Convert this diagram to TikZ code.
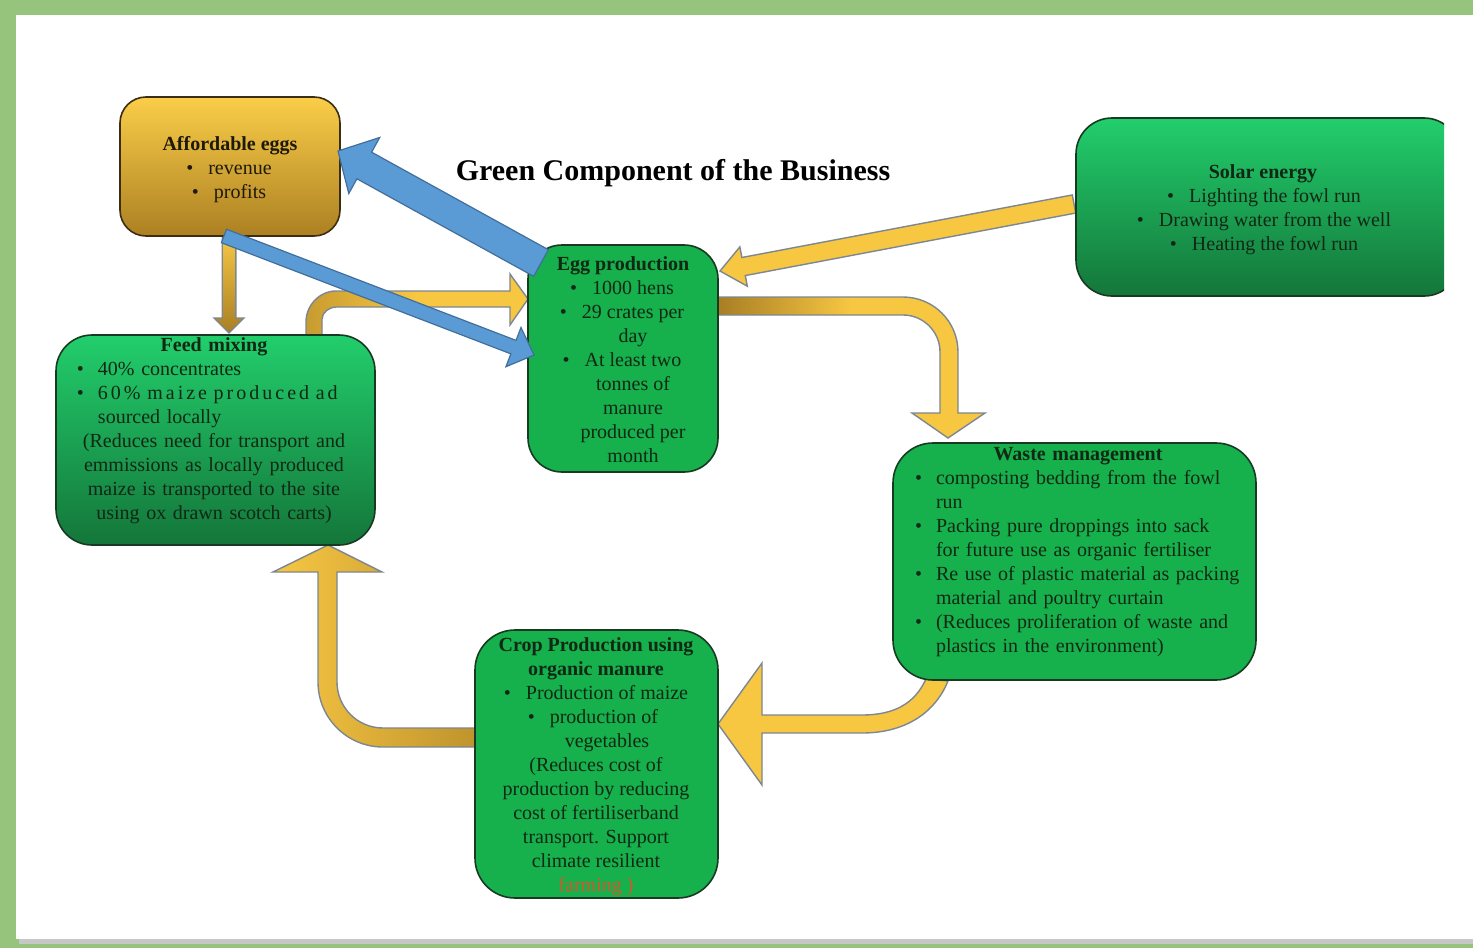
\documentclass[tikz,border=0pt]{standalone}
\usepackage{fontspec}
\setmainfont{Liberation Serif}
\usetikzlibrary{calc}
\definecolor{framegreen}{RGB}{150,196,124}
\definecolor{boxgreen}{RGB}{22,176,76}
\definecolor{gtop}{RGB}{34,206,108}
\definecolor{gbot}{RGB}{20,118,58}
\definecolor{boxedge}{RGB}{24,58,34}
\definecolor{txtc}{RGB}{16,40,20}
\definecolor{afftop}{RGB}{250,206,72}
\definecolor{affbot}{RGB}{172,128,34}
\definecolor{affedge}{RGB}{60,45,20}
\definecolor{afftxtc}{RGB}{30,25,10}
\definecolor{gold}{RGB}{247,199,66}
\definecolor{golddark}{RGB}{168,126,36}
\definecolor{arrowedge}{RGB}{125,135,145}
\definecolor{bluearr}{RGB}{91,155,213}
\definecolor{blueedge}{RGB}{65,110,155}
\definecolor{farm}{RGB}{215,85,40}
\newcommand{\cb}{\llap{\textbullet\hspace*{7.5pt}}}
\newcommand{\bl}[2]{\makebox[#1][l]{\hspace*{1.5pt}\textbullet\hspace*{7pt}#2}}
\newcommand{\cl}[2]{\makebox[#1][l]{\hspace*{12pt}#2}}
\newcommand{\sarrow}[6]{%
  \coordinate (sa-B) at ($(#2)!#4!(#1)$);
  \path[#6] ($(#1)!#3!90:(#2)$) -- ($(sa-B)!#3!90:(#2)$) -- ($(sa-B)!#5!90:(#2)$) -- (#2)
    -- ($(sa-B)!#5!-90:(#2)$) -- ($(sa-B)!#3!-90:(#2)$) -- ($(#1)!#3!-90:(#2)$) -- cycle;}
\begin{document}
\begin{tikzpicture}[x=0.5pt,y=-0.5pt,
  goldarrow/.style={draw=arrowedge, line width=0.7pt, line join=miter},
  bluestyle/.style={draw=blueedge, line width=0.6pt, fill=bluearr, line join=miter},
  boxbase/.style={draw=boxedge, line width=0.8pt, inner sep=0pt},
  flatgreen/.style={boxbase, fill=boxgreen},
  shadegreen/.style={boxbase, top color=gtop, bottom color=gbot},
  txt/.style={inner sep=0pt, text=txtc, align=center, font=\fontsize{10}{12}\selectfont, anchor=north}]
\useasboundingbox (0,0) rectangle (1473,948);
% frame
\fill[framegreen] (0,0) rectangle (1473,948);
\fill[black!22] (19,18) rectangle (1473,944);
\fill[white] (16,15) rectangle (1473,939);

% ---- gold block arrows (under boxes) ----
% egg -> waste
\shadedraw[goldarrow, left color=golddark, right color=gold, middle color=gold]
  (718,297) -- (903,297) .. controls (933.4,297) and (958,321.6) .. (958,352) -- (958,413)
  -- (985,413) -- (948,438) -- (912,413) -- (940,413) -- (940,352)
  .. controls (940,331.6) and (923.4,315) .. (903,315) -- (718,315) -- cycle;
% waste -> crop
\filldraw[goldarrow, fill=gold]
  (718,724) -- (762,663) -- (762,715) -- (862,715) .. controls (895,715) and (915,703) .. (926,679)
  -- (948,681) .. controls (935,713) and (905,733) .. (862,733) -- (762,733) -- (762,785) -- cycle;
% crop -> feed
\shadedraw[goldarrow, left color=gold, middle color=gold, right color=golddark!70!gold]
  (476,747) -- (383,747) .. controls (347.1,747) and (318,717.9) .. (318,682) -- (318,572)
  -- (273,572) -- (328,545) -- (382,572) -- (337,572) -- (337,682)
  .. controls (337,707.4) and (357.6,728) .. (383,728) -- (476,728) -- cycle;
% feed -> egg
\shadedraw[goldarrow, left color=golddark!60!gold, right color=gold, middle color=gold]
  (306,336) -- (306,322) .. controls (306,305.4) and (319.4,291) .. (336,291) -- (510,291)
  -- (510,274) -- (528,299) -- (510,325) -- (510,307) -- (336,307)
  .. controls (329.4,307) and (322,312.4) .. (322,319) -- (322,336) -- cycle;
% affordable -> feed
\coordinate (a3t) at (229,236);
\coordinate (a3h) at (229,333);
\sarrow{a3t}{a3h}{3.4pt}{7.5pt}{7.5pt}{goldarrow, top color=gold, bottom color=golddark}
% solar -> egg
\coordinate (a5t) at (1074,204);
\coordinate (a5h) at (720,271);
\sarrow{a5t}{a5h}{4.6pt}{12pt}{10pt}{goldarrow, fill=gold}

% ---- boxes ----
\node[boxbase, top color=afftop, bottom color=affbot, draw=affedge, rounded corners=13pt,
      minimum width=110pt, minimum height=69.5pt] (aff) at (230,166.5) {};
\node[flatgreen, rounded corners=17pt, minimum width=95pt, minimum height=113.5pt] (egg) at (623,358.5) {};
\begin{scope}
\clip (1060,100) rectangle (1444,320);
\node[shadegreen, rounded corners=18pt, minimum width=192pt, minimum height=89pt] (solar) at (1268,207) {};
\end{scope}
\node[shadegreen, rounded corners=18pt, minimum width=159.5pt, minimum height=105pt] (feed) at (215.5,440) {};
\node[flatgreen, rounded corners=20pt, minimum width=181.5pt, minimum height=118.5pt] (waste) at (1074.5,561.5) {};
\node[flatgreen, rounded corners=20pt, minimum width=121.5pt, minimum height=134pt] (crop) at (596.5,764) {};

% ---- blue arrows (over boxes) ----
\coordinate (b1t) at (541,263);
\coordinate (b1h) at (338,151);
\sarrow{b1t}{b1h}{7.6pt}{15pt}{16pt}{bluestyle}
\coordinate (b2t) at (224,236);
\coordinate (b2h) at (534,355);
\sarrow{b2t}{b2h}{3.6pt}{11pt}{10.5pt}{bluestyle}

% ---- texts ----
\node[font=\fontsize{15}{18}\selectfont\bfseries, text=black, inner sep=0pt] (title) at (673,173) {Green Component of the Business};

\node[txt, text=afftxtc] (afftxt) at (240,136)
 {\textbf{Affordable eggs}\hspace*{10pt}\\ \cb revenue\\ \cb profits};

\node[txt] (eggtxt) at (633,256)
 {\textbf{Egg production}\hspace*{10pt}\\ \cb 1000 hens\\ \cb 29 crates per\\ day\\ \cb At least two\\ tonnes of\\ manure\\ produced per\\ month};

\node[txt] (solartxt) at (1275,164)
 {\textbf{Solar energy}\hspace*{12pt}\\ \cb Lighting the fowl run\\ \cb Drawing water from the well\\ \cb Heating the fowl run};

\node[txt, text width=140pt] (feedtxt) at (214,337)
 {\textbf{Feed mixing}\\
  \bl{140pt}{40\% concentrates}\\
  \bl{140pt}{\makebox[124pt][s]{\addfontfeature{LetterSpace=15}60\% maize produced ad}}\\
  \cl{140pt}{sourced locally}\\
  (Reduces need for transport and\\ emmissions as locally produced\\ maize is transported to the site\\ using ox drawn scotch carts)};

\node[txt, text width=166pt] (wastetxt) at (1078,447)
 {\textbf{Waste management}\\
  \bl{166pt}{composting bedding from the fowl}\\
  \cl{166pt}{run}\\
  \bl{166pt}{Packing pure droppings into sack}\\
  \cl{166pt}{for future use as organic fertiliser}\\
  \bl{166pt}{Re use of plastic material as packing}\\
  \cl{166pt}{material and poultry curtain}\\
  \bl{166pt}{(Reduces proliferation of waste and}\\
  \cl{166pt}{plastics in the environment)}};

\node[txt] (croptxt) at (596,637)
 {\textbf{Crop Production using}\\ \textbf{organic manure}\\
  \hspace*{11pt}\cb Production of maize\\
  \hspace*{8pt}\cb production of\\
  \hspace*{11pt}vegetables\\
  (Reduces cost of\\ production by reducing\\ cost of fertiliserband\\ transport. Support\\ climate resilient\\
  \textcolor{farm}{farming )}};
\end{tikzpicture}
\end{document}
